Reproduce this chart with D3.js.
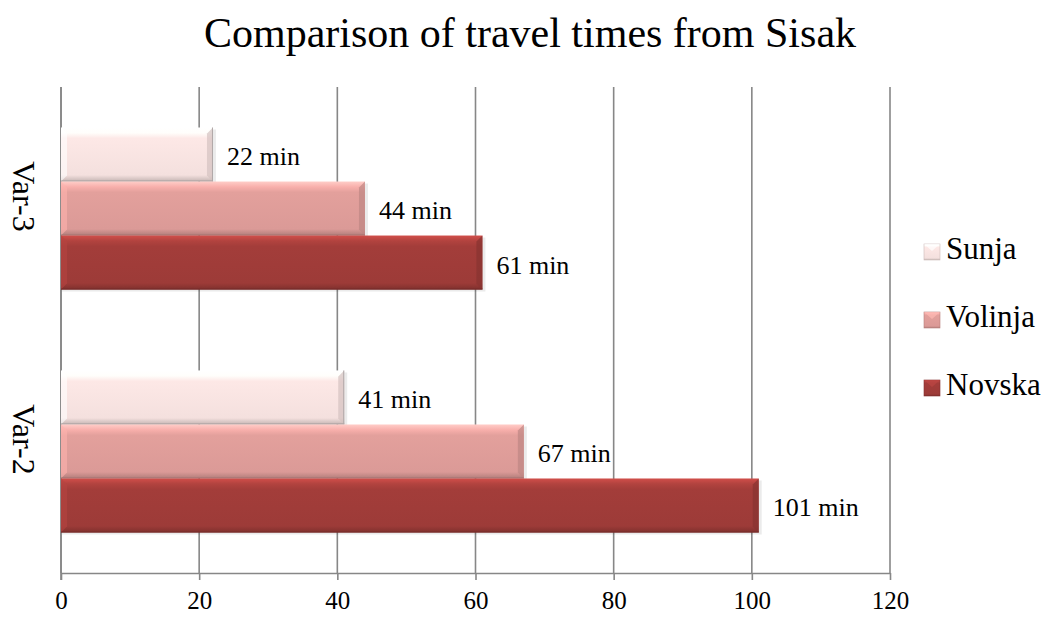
<!DOCTYPE html>
<html>
<head>
<meta charset="utf-8">
<script src="https://cdn.jsdelivr.net/npm/d3@7"></script>
<style>
  body { margin: 0; background: #fff; }
  svg text { font-family: "Liberation Serif", "DejaVu Serif", serif; fill: #000; }
</style>
</head>
<body>
<div id="chart"></div>
<script>
var w = 1049;
var h = 617;

// data
var categories = ["Var-3", "Var-2"];
var series = ["Sunja", "Volinja", "Novska"];
var var3 = [22, 44, 61];
var var2 = [41, 67, 101];
var tickValues = [0, 20, 40, 60, 80, 100, 120];
var colors = ["#fde8e6", "#e3a09c", "#a33d3a"];

var values = [var3, var2];
var serif = "'Liberation Serif', 'DejaVu Serif', serif";

var svg = d3.select("#chart")
  .append("svg")
  .attr("width", w)
  .attr("height", h)
  .attr("font-family", serif);

var plotL = 61, plotR = 890, plotT = 87, plotB = 573;

var xscale = d3.scaleLinear().domain([0, 120]).range([plotL, plotR]);
var yscale = d3.scaleBand().domain(categories).range([plotT, plotB])
  .paddingInner(0.333).paddingOuter(0.1667);
var sub = d3.scaleBand().domain(series).range([0, yscale.bandwidth()]);

var grid = "#878787";

// title
svg.append("text")
  .attr("x", 530).attr("y", 47)
  .attr("text-anchor", "middle")
  .style("font-family", serif)
  .style("font-size", "42px")
  .text("Comparison of travel times from Sisak");

// gridlines
svg.selectAll(".grid").data(tickValues).enter().append("line")
  .attr("x1", function(d){ return xscale(d); })
  .attr("x2", function(d){ return xscale(d); })
  .attr("y1", plotT).attr("y2", plotB)
  .style("stroke", grid).style("stroke-width", 1.6);

// left axis line
svg.append("line")
  .attr("x1", plotL).attr("x2", plotL).attr("y1", plotT).attr("y2", plotB + 7)
  .style("stroke", grid).style("stroke-width", 1.6);

// x axis
var xaxis = svg.append("g")
  .attr("transform", "translate(0," + plotB + ")")
  .call(d3.axisBottom(xscale).tickValues(tickValues).tickSize(7).tickSizeOuter(0));
xaxis.attr("font-family", serif);
xaxis.select(".domain").style("stroke", grid).style("stroke-width", 1.6);
xaxis.selectAll(".tick line").style("stroke", grid).style("stroke-width", 1.6);
xaxis.selectAll(".tick text")
  .attr("y", 18)
  .style("font-family", serif)
  .style("font-size", "25px").style("fill", "#000");

// gradients
var defs = svg.append("defs");
colors.forEach(function(c, i){
  var base = d3.color(c);
  var g = defs.append("linearGradient").attr("id", "grad" + i)
    .attr("x1", 0).attr("y1", 0).attr("x2", 0).attr("y2", 1);
  g.append("stop").attr("offset", "0").attr("stop-color", base.brighter(0.7));
  g.append("stop").attr("offset", "0.1").attr("stop-color", base.brighter(0.25));
  g.append("stop").attr("offset", "0.2").attr("stop-color", base);
  g.append("stop").attr("offset", "0.88").attr("stop-color", base.darker(0.1));
  g.append("stop").attr("offset", "1").attr("stop-color", base.darker(0.7));
});

var bars = [];
categories.forEach(function(cat, ci){
  series.forEach(function(s, si){
    bars.push({cat: cat, s: s, si: si, v: values[ci][si]});
  });
});

var bev = 6;
var g = svg.append("g");

bars.forEach(function(d){
  var x0 = xscale(0), x1 = xscale(d.v);
  var y0 = yscale(d.cat) + sub(d.s), y1 = y0 + sub.bandwidth();
  var base = d3.color(colors[d.si]);

  // soft shadow
  g.append("rect")
    .attr("x", x0 + 1).attr("y", y0 + 2)
    .attr("width", x1 - x0 + 2).attr("height", y1 - y0)
    .style("fill", "#000").style("opacity", 0.08);

  g.append("rect")
    .attr("x", x0).attr("y", y0)
    .attr("width", x1 - x0).attr("height", y1 - y0)
    .style("fill", "url(#grad" + d.si + ")");

  // left bevel
  g.append("polygon")
    .attr("points", [[x0, y0], [x0 + bev, y0 + bev], [x0 + bev, y1 - bev], [x0, y1]].join(" "))
    .style("fill", base.brighter(0.3)).style("opacity", 0.6);
  // right bevel
  g.append("polygon")
    .attr("points", [[x1, y0], [x1 - bev, y0 + bev], [x1 - bev, y1 - bev], [x1, y1]].join(" "))
    .style("fill", base.darker(0.5)).style("opacity", 0.7);
  // bottom edge
  g.append("line")
    .attr("x1", x0).attr("x2", x1).attr("y1", y1 - 0.5).attr("y2", y1 - 0.5)
    .style("stroke", d.si == 0 ? "#a8a0a0" : base.darker(0.9)).style("stroke-width", 1);
  if (d.si == 0) {
    g.append("line")
      .attr("x1", x1 - 0.5).attr("x2", x1 - 0.5).attr("y1", y0).attr("y2", y1)
      .style("stroke", "#b0a8a8").style("stroke-width", 1);
  }

  // value label
  svg.append("text")
    .attr("x", x1 + 14)
    .attr("y", (y0 + y1) / 2 + 5)
    .attr("dominant-baseline", "middle")
    .style("font-family", serif)
    .style("font-size", "26px")
    .text(d.v + " min");
});

// category labels
categories.forEach(function(cat){
  var cy = yscale(cat) + yscale.bandwidth() / 2 - 12;
  svg.append("text")
    .attr("transform", "translate(13," + cy + ") rotate(90)")
    .attr("text-anchor", "middle")
    .style("font-family", serif)
    .style("font-size", "32px")
    .text(cat);
});

// legend
var legY = [259, 327, 395];
series.forEach(function(s, i){
  var c = d3.color(colors[i]);
  var ly = legY[i];
  svg.append("rect")
    .attr("x", 924).attr("y", ly - 15)
    .attr("width", 16).attr("height", 16)
    .style("fill", "url(#grad" + i + ")")
    .style("stroke", c.darker(0.6)).style("stroke-width", 0.6);
  svg.append("polygon")
    .attr("points", [[924, ly - 15], [932, ly - 8], [940, ly - 15]].join(" "))
    .style("fill", c.brighter(0.4)).style("opacity", 0.7);
  svg.append("text")
    .attr("x", 946).attr("y", ly)
    .style("font-family", serif)
    .style("font-size", "31px")
    .text(s);
});
</script>
</body>
</html>
